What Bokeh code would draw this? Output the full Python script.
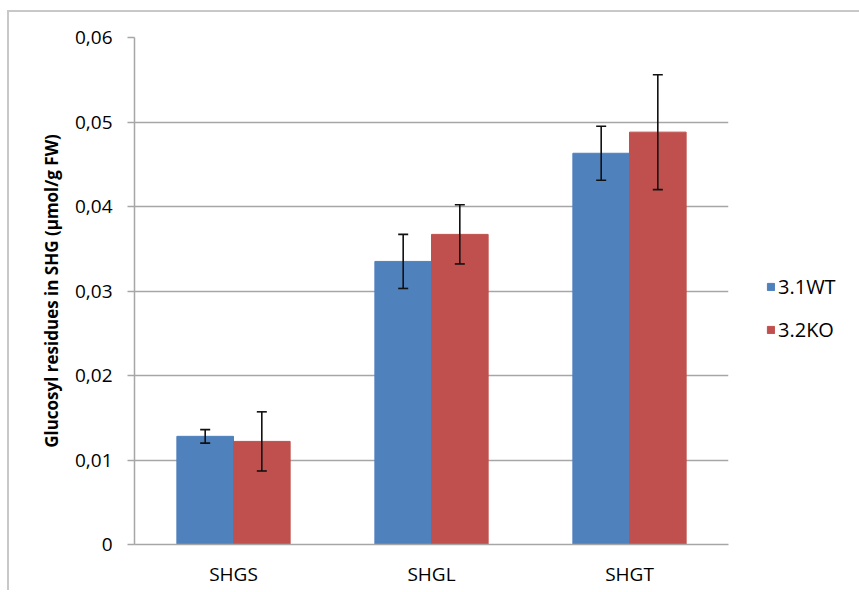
from bokeh.plotting import figure
from bokeh.models import (ColumnDataSource, Range1d, FixedTicker, CustomJSTickFormatter,
                          Whisker, TeeHead, Legend, LegendItem)
from bokeh.transform import dodge
from bokeh.embed import file_html
from bokeh.resources import INLINE

categories = ["SHGS", "SHGL", "SHGT"]
wt = [0.0128, 0.0335, 0.0463]
ko = [0.0122, 0.0367, 0.0488]
wt_err = [0.0008, 0.0032, 0.0032]
ko_err = [0.0035, 0.0035, 0.0068]
series_names = ["3.1WT", "3.2KO"]
y_ticks = [0.0, 0.01, 0.02, 0.03, 0.04, 0.05, 0.06]

BLUE = "#4F81BD"
RED = "#C0504D"
GRID = "#a6a6a6"
FONT = "Open Sans"

src = ColumnDataSource(dict(
    cat=categories, wt=wt, ko=ko,
    wt_up=[v + e for v, e in zip(wt, wt_err)], wt_lo=[v - e for v, e in zip(wt, wt_err)],
    ko_up=[v + e for v, e in zip(ko, ko_err)], ko_lo=[v - e for v, e in zip(ko, ko_err)],
))

p = figure(x_range=categories, y_range=Range1d(0, 0.06),
           frame_width=594, frame_height=507,
           min_border_left=134, min_border_top=37, min_border_right=115, min_border_bottom=46,
           output_backend="svg", toolbar_location=None)
p.styles = {
    "background": ("linear-gradient(#c8c8c8,#c8c8c8) 7px 10px / 100% 2px no-repeat, "
                   "linear-gradient(#c8c8c8,#c8c8c8) 7px 10px / 2px 100% no-repeat, white"),
}
p.x_range.range_padding = 0
p.outline_line_color = None
p.background_fill_color = "white"
p.border_fill_alpha = 0

bw = 0.286
off = 0.143
r1 = p.vbar(x=dodge("cat", -off, range=p.x_range), top="wt", width=bw, source=src,
            fill_color=BLUE, line_color=BLUE)
r2 = p.vbar(x=dodge("cat", off, range=p.x_range), top="ko", width=bw, source=src,
            fill_color=RED, line_color=RED)

for xo, up, lo in [(-off, "wt_up", "wt_lo"), (off, "ko_up", "ko_lo")]:
    w = Whisker(base=dodge("cat", xo, range=p.x_range), upper=up, lower=lo, source=src,
                level="overlay", line_color="#111111", line_width=1.6,
                upper_head=TeeHead(size=10, line_color="#111111", line_width=1.6),
                lower_head=TeeHead(size=10, line_color="#111111", line_width=1.6))
    p.add_layout(w)

# grid
p.xgrid.grid_line_color = None
p.ygrid.grid_line_color = GRID
p.ygrid.grid_line_width = 1.5
p.yaxis.ticker = FixedTicker(ticks=y_ticks)
p.ygrid.ticker = FixedTicker(ticks=y_ticks)

# y axis
p.yaxis.formatter = CustomJSTickFormatter(
    code="return tick == 0 ? '0' : tick.toFixed(2).replace('.', ',');")
p.yaxis.axis_label = "Glucosyl residues in SHG (µmol/g FW)"
p.yaxis.axis_label_text_font = FONT
p.yaxis.axis_label_text_font_style = "bold"
p.yaxis.axis_label_text_font_size = "17px"
p.yaxis.axis_label_text_color = "black"
p.yaxis.axis_label_standoff = 9
p.yaxis.major_label_text_font = FONT
p.yaxis.major_label_text_font_size = "19px"
p.yaxis.major_label_text_color = "black"
p.yaxis.major_label_standoff = 15
p.yaxis.axis_line_color = GRID
p.yaxis.axis_line_width = 1.5
p.yaxis.major_tick_line_color = GRID
p.yaxis.major_tick_line_width = 1.5
p.yaxis.major_tick_out = 7
p.yaxis.major_tick_in = 0
p.yaxis.minor_tick_line_color = None

# x axis
p.xaxis.major_label_text_font = FONT
p.xaxis.major_label_text_font_size = "19px"
p.xaxis.major_label_text_color = "black"
p.xaxis.major_label_standoff = 10
p.xaxis.axis_line_color = GRID
p.xaxis.axis_line_width = 1.5
p.xaxis.major_tick_line_color = None
p.xaxis.minor_tick_line_color = None

legend = Legend(items=[LegendItem(label=series_names[0], renderers=[r1]),
                       LegendItem(label=series_names[1], renderers=[r2])],
                location=(38, 201), orientation="vertical",
                glyph_width=9, glyph_height=9, label_standoff=3, label_height=20,
                spacing=16, padding=0, margin=0,
                border_line_color=None, background_fill_alpha=0,
                label_text_font=FONT, label_text_font_size="20px", label_text_color="black")
p.add_layout(legend, "right")

open("out.html", "w").write(file_html(p, INLINE))
